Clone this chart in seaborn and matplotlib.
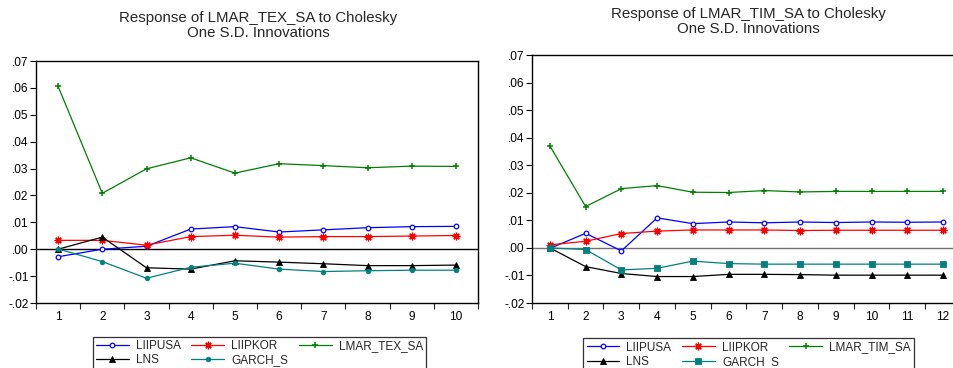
import numpy as np
import pandas as pd
import matplotlib
matplotlib.use("Agg")
import matplotlib.pyplot as plt
from matplotlib.ticker import FixedLocator, FuncFormatter
import seaborn as sns

sns.set_style("white")
plt.rcParams['font.family'] = ['Liberation Sans', 'DejaVu Sans']

# ---------------- data ----------------
periods_tex = list(range(1, 11))
tex_liipusa = [-0.0028, 0.0000, 0.0011, 0.0075, 0.0084, 0.0064, 0.0072, 0.0080, 0.0084, 0.0085]
tex_liipkor = [0.0033, 0.0033, 0.0015, 0.0047, 0.0052, 0.0045, 0.0047, 0.0047, 0.0049, 0.0051]
tex_lmar = [0.0606, 0.0208, 0.0299, 0.0340, 0.0283, 0.0318, 0.0311, 0.0303, 0.0309, 0.0308]
tex_lns = [0.0000, 0.0045, -0.0069, -0.0074, -0.0043, -0.0048, -0.0054, -0.0061, -0.0061, -0.0059]
tex_garch = [0.0001, -0.0046, -0.0108, -0.0067, -0.0052, -0.0074, -0.0083, -0.0080, -0.0078, -0.0078]

periods_tim = list(range(1, 13))
tim_liipusa = [-0.0002, 0.0053, -0.0011, 0.0109, 0.0088, 0.0094, 0.0091, 0.0094, 0.0092, 0.0094, 0.0093, 0.0094]
tim_liipkor = [0.0011, 0.0024, 0.0052, 0.0061, 0.0065, 0.0065, 0.0065, 0.0063, 0.0064, 0.0064, 0.0064, 0.0064]
tim_lmar = [0.0370, 0.0150, 0.0215, 0.0226, 0.0202, 0.0201, 0.0208, 0.0203, 0.0205, 0.0205, 0.0205, 0.0205]
tim_lns = [0.0000, -0.0068, -0.0093, -0.0104, -0.0104, -0.0096, -0.0096, -0.0097, -0.0099, -0.0099, -0.0099, -0.0099]
tim_garch = [0.0000, -0.0006, -0.0080, -0.0074, -0.0048, -0.0057, -0.0059, -0.0059, -0.0059, -0.0059, -0.0059, -0.0059]

ytick_vals = [-0.02, -0.01, 0.00, 0.01, 0.02, 0.03, 0.04, 0.05, 0.06, 0.07]
title_tex = ["Response of LMAR_TEX_SA to Cholesky", "One S.D. Innovations"]
title_tim = ["Response of LMAR_TIM_SA to Cholesky", "One S.D. Innovations"]

W, H = 954, 368
fig = plt.figure(figsize=(W / 100, H / 100), dpi=100)


def px_axes(l, t, r, b):
    return fig.add_axes([l / W, 1 - b / H, (r - l) / W, (b - t) / H])


def yfmt(v, pos):
    s = f"{v:.2f}"
    return s.replace("0.", ".")


def draw_panel(ax, periods, series, zero_color, titles, tx, ty):
    for name, vals, color, marker, mfc, ms, mew in series:
        sns.lineplot(x=periods, y=vals, ax=ax, color=color, lw=0.9, marker=marker,
                     markerfacecolor=mfc, markeredgecolor=color, markersize=ms,
                     markeredgewidth=mew, label=name, legend=False)
    ax.axhline(0, color=zero_color, lw=1.0, zorder=1)
    n = len(periods)
    ax.set_xlim(0.5, n + 0.5)
    ax.set_ylim(-0.02, 0.07)
    ax.xaxis.set_major_locator(FixedLocator(periods))
    ax.xaxis.set_minor_locator(FixedLocator([p + 0.5 for p in range(0, n + 1)]))
    ax.set_xticklabels([str(p) for p in periods])
    ax.yaxis.set_major_locator(FixedLocator(ytick_vals))
    ax.yaxis.set_major_formatter(FuncFormatter(yfmt))
    ax.tick_params(axis='x', which='major', length=0, labelsize=8.6, pad=6, colors='black')
    ax.tick_params(axis='x', which='minor', length=4, width=0.8, direction='out', bottom=True)
    ax.tick_params(axis='y', which='major', length=4, width=0.8, direction='out', left=True,
                   labelsize=8.6, pad=1.2, colors='black')
    for s in ax.spines.values():
        s.set_color('black')
        s.set_linewidth(1.0)
    ax.set_xlabel("")
    ax.set_ylabel("")
    for i, t in enumerate(titles):
        fig.text(tx / W, 1 - (ty + 15 * i) / H, t, ha='center', va='center', fontsize=10.8)


ax1 = px_axes(36, 61, 478, 303)
series_tex = [
    ("LIIPUSA", tex_liipusa, "#0000ff", "o", "white", 3.3, 0.9),
    ("LIIPKOR", tex_liipkor, "#ff0000", (8, 2, 0), "#ff0000", 5.5, 0.9),
    ("LMAR_TEX_SA", tex_lmar, "#008000", "+", "#008000", 5.0, 1.1),
    ("LNS", tex_lns, "#000000", "^", "#000000", 4.0, 0.6),
    ("GARCH_S", tex_garch, "#008080", "o", "#008080", 3.3, 0.6),
]
draw_panel(ax1, periods_tex, series_tex, "black", title_tex, 258, 18)

ax2 = px_axes(532, 55, 961, 303)
series_tim = [
    ("LIIPUSA", tim_liipusa, "#0000ff", "o", "white", 3.3, 0.9),
    ("LIIPKOR", tim_liipkor, "#ff0000", (8, 2, 0), "#ff0000", 5.5, 0.9),
    ("LMAR_TIM_SA", tim_lmar, "#008000", "+", "#008000", 5.0, 1.1),
    ("LNS", tim_lns, "#000000", "^", "#000000", 4.0, 0.6),
    ("GARCH_S", tim_garch, "#008080", "s", "#008080", 3.8, 0.6),
]
draw_panel(ax2, periods_tim, series_tim, "#707070", title_tim, 748, 14)


def add_legend(ax, x0, y0, bpad):
    h, l = ax.get_legend_handles_labels()
    order = [0, 3, 1, 4, 2]
    leg = fig.legend([h[i] for i in order], [l[i] for i in order], ncol=3,
                     loc='upper left', bbox_to_anchor=(x0 / W, 1 - y0 / H),
                     frameon=True, fancybox=False, fontsize=8.45, handlelength=2.8,
                     handletextpad=0.6, columnspacing=0.9, labelspacing=0.2,
                     borderpad=bpad, borderaxespad=0)
    leg.get_frame().set_edgecolor('black')
    leg.get_frame().set_linewidth(0.9)
    return leg


add_legend(ax1, 93, 337, 0.25)
add_legend(ax2, 583, 338, 0.3)

fig.savefig("out.png", dpi=100)
